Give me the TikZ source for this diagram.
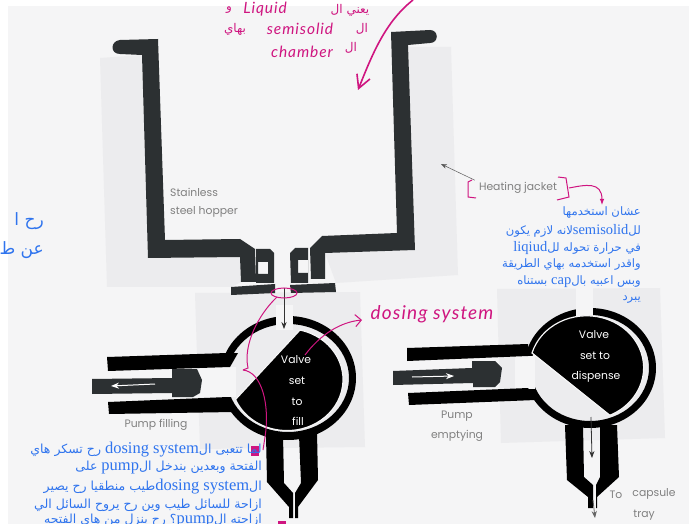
\documentclass[tikz,border=0pt]{standalone}
\usepackage{fontspec}
\usepackage{xcolor}
\setmainfont{Liberation Serif}
\newfontfamily\latinfont{Liberation Serif}
\newfontfamily\labelfont{Poppins}
\newfontfamily\handfont[LetterSpace=6]{Lato}
\newfontfamily\arabicfont[Script=Arabic]{DejaVu Sans}
\TeXXeTstate=1
\usetikzlibrary{arrows.meta,positioning}
\definecolor{paper}{HTML}{F5F5F6}
\definecolor{tintgrey}{HTML}{ECECEE}
\definecolor{steel}{HTML}{2C3032}
\definecolor{pinkpen}{HTML}{CF1580}
\definecolor{bluenote}{HTML}{2F74EE}
\newcommand{\latb}[1]{\beginL{\latinfont\fontsize{14.5}{14.5}\selectfont #1}\endL{}}
\newcommand{\latc}[1]{\beginL{\latinfont\fontsize{16.5}{16.5}\selectfont #1}\endL{}}
\begin{document}
\begin{tikzpicture}[x=1pt,y=1pt,yscale=-1,
    steelpart/.style={fill=steel},
    blackpart/.style={fill=black},
    disc/.style={fill=black, draw=paper, line width=1.2pt},
    photolabel/.style={font=\labelfont\fontsize{10.8}{10.8}\selectfont, text=black!50, inner sep=0pt},
    valvelabel/.style={font=\labelfont\fontsize{10.8}{10.8}\selectfont, text=white, inner sep=0pt},
    bluetext/.style={font=\arabicfont\fontsize{11.6}{11.6}\selectfont, text=bluenote, inner sep=0pt, anchor=east},
    bluetextb/.style={bluetext, font=\arabicfont\fontsize{12.5}{12.5}\selectfont},
    bluecut/.style={bluetext, font=\arabicfont\fontsize{17}{17}\selectfont},
    handtext/.style={font=\handfont\itshape\fontsize{15.5}{15.5}\selectfont, text=pinkpen, inner sep=0pt},
    handarabic/.style={font=\arabicfont\fontsize{12}{12}\selectfont, text=pinkpen, inner sep=0pt},
    pen/.style={draw=pinkpen, line width=1pt},
    arr/.style={-{Stealth[length=7pt]}, line width=0.8pt, black!80}
]
\useasboundingbox (0,0) rectangle (689,524);
\fill[white] (0,0) rectangle (689,524);
\fill[paper] (8,6) rectangle (689,524);

% grey tint behind the drawing
\fill[tintgrey] (100,58) -- (142,55) -- (148,258) -- (240,257) -- (241,282) -- (231,287) -- (107,287) -- cycle;
\fill[tintgrey] (408,47) -- (451,47) -- (458,275) -- (336,283) -- (325,253) -- (415,250) -- cycle;
\fill[tintgrey] (195,293) -- (360,292) -- (365,447) -- (200,449) -- cycle;
\fill[tintgrey] (497,289) -- (660,288) -- (665,438) -- (501,443) -- cycle;

% hopper
\fill[steelpart] (158,39) -- (165,240) -- (240,239) -- (255,249) -- (256,282)
    -- (241,282) -- (240,257) -- (148,258) -- (142,55) -- (120,54)
    .. controls (110,54) and (110,41) .. (120,40) -- cycle;
\fill[steelpart] (391,32) -- (430,30) .. controls (439,30) and (439,43) .. (430,43) -- (408,45) -- (415,250)
    -- (325,253) -- (325,279) -- (311,279) -- (310,248) -- (322,236) -- (397,233) -- cycle;
\fill[steelpart, even odd rule] (256,249) -- (270,249) -- (274,253) -- (274,283) -- (256,283) -- cycle
    (258,262) rectangle (268,274);
\fill[steelpart, even odd rule] (308,248) -- (295,248) -- (290,253) -- (291,283) -- (308,283) -- cycle
    (298,260) rectangle (308,273);
\fill[steelpart] (231,287) -- (275,284) -- (275,293) -- (231,295) -- cycle;
\fill[steelpart] (290,285) -- (335,283) -- (336,292) -- (291,293) -- cycle;

% valve on the left
\fill[black, even odd rule] (288,378) ellipse[x radius=68, y radius=62] (288,378) ellipse[x radius=61, y radius=54];
\fill[paper] (276,305) rectangle (293,330);
\fill[paper] (195,367) rectangle (236,397);
\fill[blackpart] (107,357) -- (227,353) -- (238,353) -- (230,367) -- (108,371) -- cycle;
\fill[blackpart] (108,402) -- (228,397) -- (234,412) -- (109,414) -- cycle;
\draw[disc] (300,330) arc[start angle=-76.6, end angle=157, x radius=56, y radius=51] -- cycle;
\fill[steelpart] (92,379) -- (172,378) -- (172,369) -- (197,369) -- (202,380) -- (200,393) -- (193,397)
    -- (172,397) -- (172,393) -- (92,394) -- cycle;
\fill[blackpart] (266,435) -- (283,435) -- (284,483) -- (293,493) -- (293,518) -- (289,518) -- (289,507) -- (267,482) -- cycle;
\fill[blackpart] (299,435) -- (317,432) -- (318,480) -- (298,507) -- (298,518) -- (295,518) -- (295,493) -- (301,483) -- cycle;
\coordinate (rodfilltail) at (155,384);
\coordinate (rodfillhead) at (111,386);
\draw[-{Stealth[length=8pt]}, white, line width=1pt] (rodfilltail) -- (rodfillhead);
\coordinate (fillin) at (284,288);
\coordinate (fillout) at (284,329);
\draw[arr] (fillin) -- (fillout);

% valve on the right
\fill[black, even odd rule] (590,368) ellipse[x radius=66, y radius=60] (590,368) ellipse[x radius=59, y radius=53];
\fill[paper] (576,288) rectangle (593,325);
\fill[paper] (515,356) rectangle (535,389);
\fill[blackpart] (407,348) -- (528,344) -- (528,356) -- (407,361) -- cycle;
\fill[blackpart] (408,393) -- (528,388) -- (536,400) -- (409,405) -- cycle;
\draw[disc] (532,353) arc[start angle=-163.5, end angle=66, x radius=57, y radius=52] -- cycle;
\fill[steelpart] (393,371) -- (472,368) -- (472,361) -- (495,361) -- (502,368) -- (500,382) -- (495,387)
    -- (473,387) -- (473,383) -- (393,385) -- cycle;
\fill[blackpart] (565,425) -- (583,425) -- (584,477) -- (593,485) -- (593,508) -- (588,508) -- (588,497) -- (567,480) -- cycle;
\fill[blackpart] (600,425) -- (617,425) -- (619,477) -- (597,497) -- (597,508) -- (596,508) -- (596,485) -- (600,477) -- cycle;
\coordinate (rodemptytail) at (412,377);
\coordinate (rodemptyhead) at (454,376);
\draw[-{Stealth[length=8pt]}, white, line width=1pt] (rodemptytail) -- (rodemptyhead);
\coordinate (emptyin) at (591,417);
\coordinate (emptyout) at (592,458);
\draw[arr] (emptyin) -- (emptyout);
\coordinate (trayin) at (593,500);
\coordinate (trayout) at (595,518);
\draw[arr, black!60] (trayin) -- (trayout);

% printed labels
\node[photolabel, anchor=west] (stainless) at (170,192) {Stainless};
\node[photolabel, anchor=west] (steelhopper) at (170,212) {steel hopper};
\node[photolabel] (jacket) at (518,188) {Heating jacket};
\node[photolabel] (pumpfill) at (156,425) {Pump filling};
\node[photolabel] (pump) at (457,416) {Pump};
\node[photolabel] (emptying) at (457,436) {emptying};
\node[photolabel] (to) at (616,495) {To};
\node[photolabel] (capsule) at (654,494) {capsule};
\node[photolabel] (tray) at (644,515) {tray};
\node[valvelabel] (valvea) at (296,360) {Valve};
\node[valvelabel] (seta) at (297,381) {set};
\node[valvelabel] (toa) at (297,402) {to};
\node[valvelabel] (fillb) at (298,421) {fill};
\node[valvelabel] (valveb) at (594,335) {Valve};
\node[valvelabel] (setb) at (595,356) {set to};
\node[valvelabel] (dispense) at (596,377) {dispense};
\coordinate (jackettip) at (441,164);
\draw[-{Stealth[length=6pt]}, black!65, line width=0.5pt] (jacket.north west) ++(-4,-2) -- (jackettip);

% pen marks
\draw[pen] (472,180) -- (468,182) -- (468,197) -- (476,198);
\draw[pen] (558,177) -- (566,178) -- (569,197) -- (557,200);
\coordinate (penfrom) at (569,188);
\coordinate (pennote) at (602,205);
\draw[pen, -{Latex[length=6pt]}] (penfrom) .. controls (585,185) and (602,181) .. (pennote);
\draw[pen] (284,293) ellipse[x radius=13, y radius=5];
\coordinate (oval) at (277,297);
\coordinate (hook) at (243,370);
\coordinate (blot) at (263,450);
\draw[pen] (oval) .. controls (258,315) and (243,345) .. (248,368) -- (hook);
\draw[pen] (hook) .. controls (262,372) and (270,405) .. (265,437) -- (blot);
\fill[pinkpen] (251,446) rectangle (259,456);
\fill[pinkpen] (278,521) rectangle (286,524);
\coordinate (dosefrom) at (305,355);
\coordinate (doseto) at (362,320);
\draw[pen, -{Straight Barb[length=6pt]}] (dosefrom) .. controls (320,335) and (340,322) .. (doseto);
\coordinate (bigfrom) at (413,0);
\coordinate (bigto) at (358,90);
\draw[pen, line width=1.6pt, -{Straight Barb[length=13pt,width=14pt]}] (bigfrom) .. controls (385,22) and (372,55) .. (bigto);

% handwriting
\node[handtext] (liquid) at (265,9) {Liquid};
\node[handarabic] (waw) at (229,10) {\beginR و\endR};
\node[handarabic] (yaani) at (350,10) {\beginR يعني ال\endR};
\node[handtext] (semisolid) at (300,29) {semisolid};
\node[handarabic] (bihay) at (235,29) {\beginR بهاي\endR};
\node[handarabic] (alone) at (362,29) {\beginR ال\endR};
\node[handtext] (chamber) at (302,52) {chamber};
\node[handarabic] (altwo) at (351,48) {\beginR ال\endR};
\node[handtext, font=\handfont\itshape\fontsize{19}{19}\selectfont] (dosing) at (432,314) {dosing system};

% typed notes
\node[bluetext] (noteone) at (641,213) {\beginR عشان استخدمها\endR};
\node[bluetext] (notetwo) at (641,231) {\beginR لل\latb{semisolid}لانه لازم يكون\endR};
\node[bluetext] (notethree) at (641,248) {\beginR في حرارة تحوله لل\latb{liqiud}\endR};
\node[bluetext] (notefour) at (641,265) {\beginR واقدر استخدمه بهاي الطريقة\endR};
\node[bluetext] (notefive) at (641,282) {\beginR وبس اعبيه بال\latb{cap} بستناه\endR};
\node[bluetext] (notesix) at (641,300) {\beginR يبرد\endR};
\node[bluetextb] (leftone) at (262,450) {\beginR لما تتعبى ال\latc{dosing system} رح تسكر هاي\endR};
\node[bluetextb] (lefttwo) at (262,468) {\beginR الفتحة وبعدين بندخل ال\latc{pump} على\endR};
\node[bluetextb] (leftthree) at (262,487) {\beginR ال\latc{dosing system}طيب منطقيا رح يصير\endR};
\node[bluetextb] (leftfour) at (262,505) {\beginR ازاحة للسائل طيب وين رح يروح السائل الي\endR};
\node[bluetextb] (leftfive) at (262,521) {\beginR ازاحته ال\latc{pump}؟ رح ينزل من هاي الفتحه\endR};
\node[bluecut] (cutone) at (44,221) {\beginR رح ا\endR};
\node[bluecut] (cuttwo) at (44,250) {\beginR عن ط\endR};
\end{tikzpicture}
\end{document}
